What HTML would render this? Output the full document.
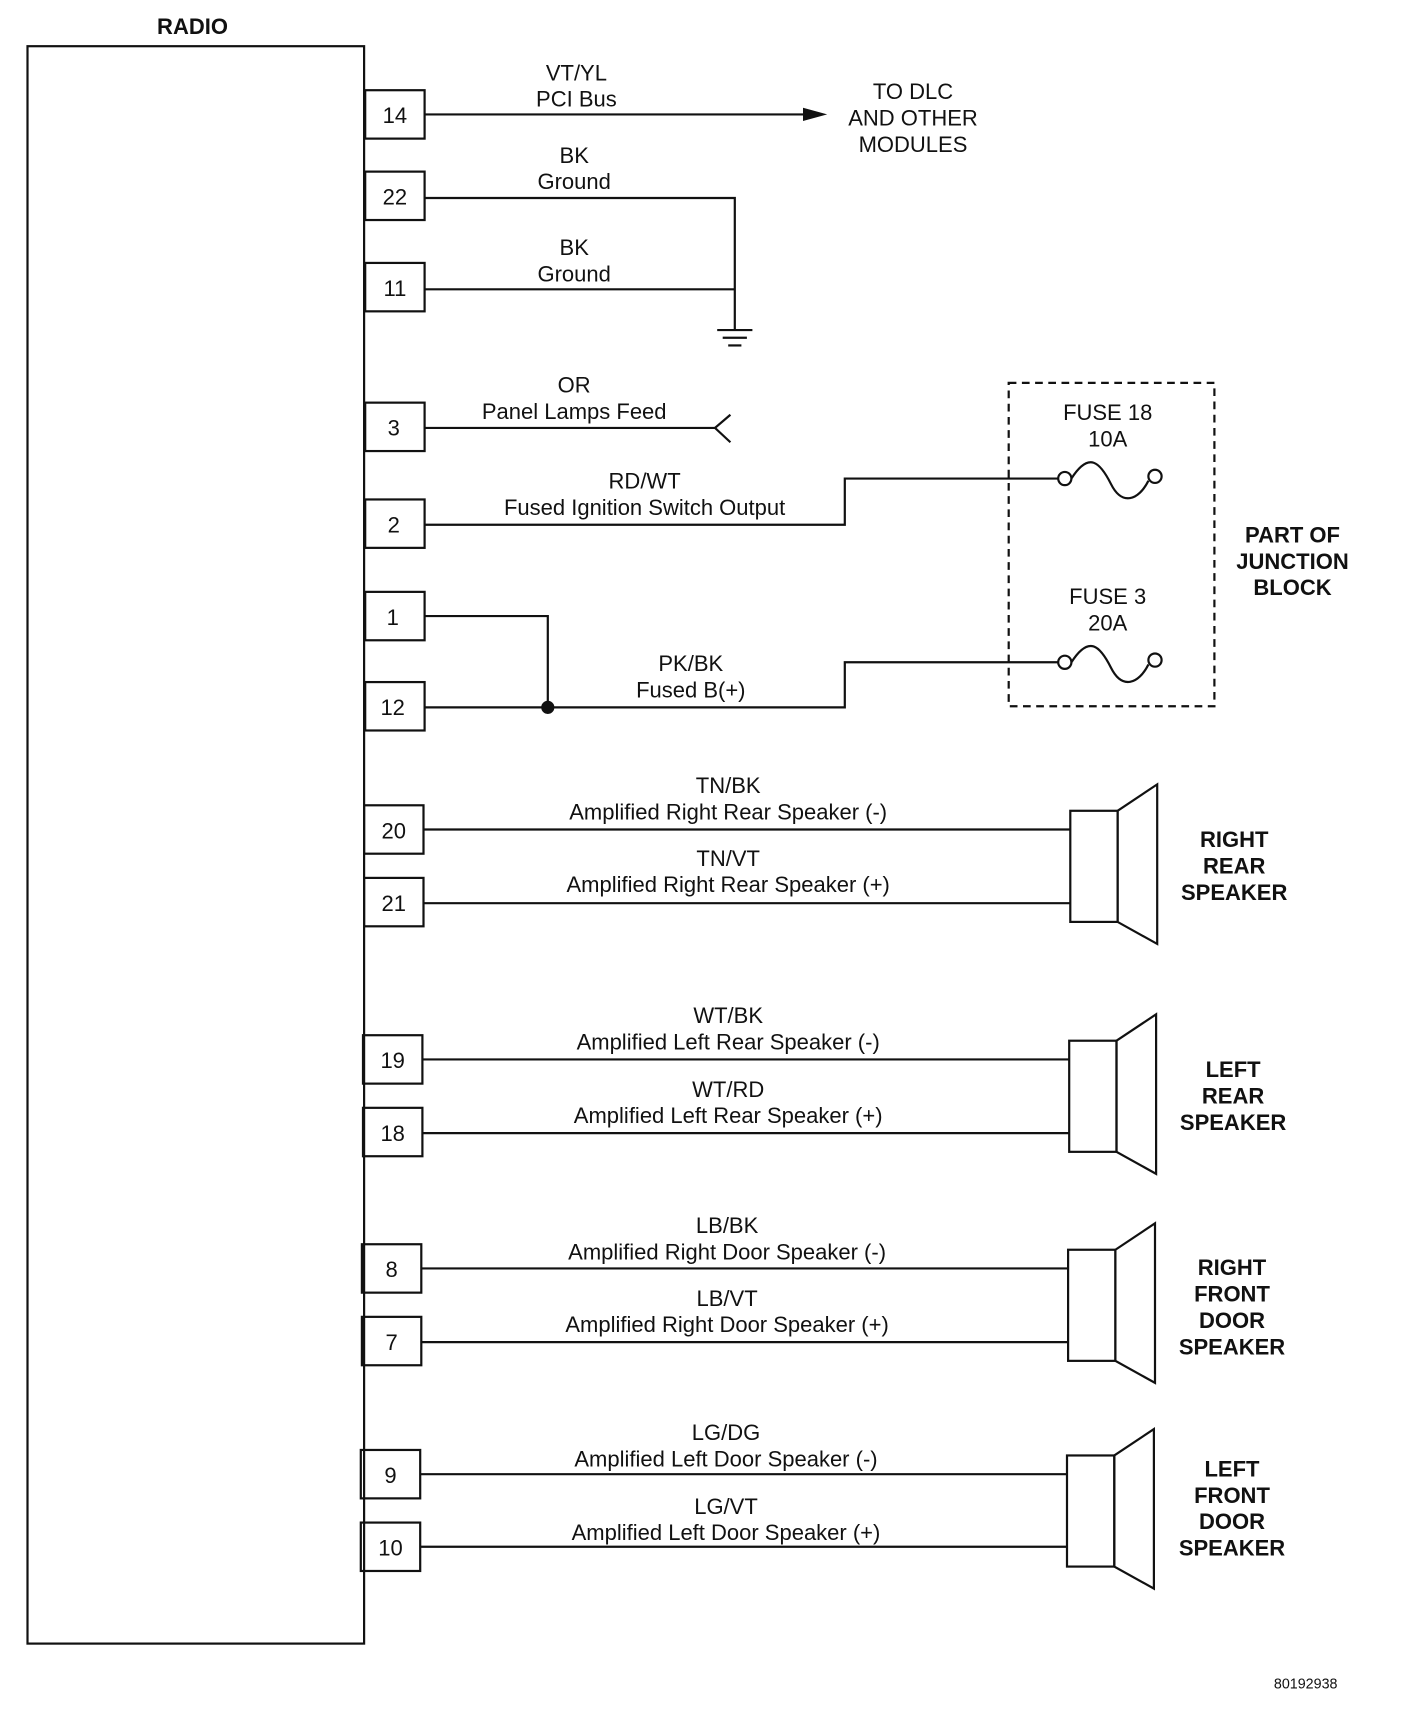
<!DOCTYPE html>
<html><head><meta charset="utf-8"><style>
html,body{margin:0;padding:0;background:#fff;}
svg{display:block;}
text{font-family:"Liberation Sans",Arial,sans-serif;font-size:20px;fill:#111;text-anchor:middle;}
.b{font-weight:bold;}
</style></head><body>
<svg width="1408" height="1736" viewBox="0 0 1280 1578" preserveAspectRatio="none" xmlns="http://www.w3.org/2000/svg">
<g stroke="#111" stroke-width="2" fill="none">
<rect x="25" y="42" width="306" height="1452"/>
<!-- pin boxes -->
<rect x="332" y="82" width="54" height="44"/>
<rect x="332" y="156" width="54" height="44"/>
<rect x="332" y="239" width="54" height="44"/>
<rect x="332" y="366" width="54" height="44"/>
<rect x="332" y="454" width="54" height="44"/>
<rect x="332" y="538" width="54" height="44"/>
<rect x="332" y="620" width="54" height="44"/>
<rect x="331" y="732" width="54" height="44"/>
<rect x="331" y="798" width="54" height="44"/>
<rect x="330" y="941" width="54" height="44"/>
<rect x="330" y="1007" width="54" height="44"/>
<rect x="329" y="1131" width="54" height="44"/>
<rect x="329" y="1197" width="54" height="44"/>
<rect x="328" y="1318" width="54" height="44"/>
<rect x="328" y="1384" width="54" height="44"/>
<!-- wires -->
<line x1="386" y1="104" x2="738" y2="104"/>
<polyline points="386,180 668,180 668,300"/>
<line x1="386" y1="263" x2="668" y2="263"/>
<line x1="652" y1="300" x2="684" y2="300"/>
<line x1="657" y1="307" x2="679" y2="307"/>
<line x1="662" y1="314" x2="674" y2="314"/>
<polyline points="386,389 650,389"/>
<polyline points="664,377 650,389 664,402"/>
<polyline points="386,477 768,477 768,435 962,435"/>
<polyline points="386,560 498,560 498,643"/>
<polyline points="386,643 768,643 768,602 962,602"/>
<circle cx="968" cy="435" r="6"/><circle cx="1050" cy="433" r="6"/>
<path d="M974,435 C990,410 1000,420 1010,440 C1020,460 1035,455 1044,437"/>
<circle cx="968" cy="602" r="6"/><circle cx="1050" cy="600" r="6"/>
<path d="M974,602 C990,577 1000,587 1010,607 C1020,627 1035,622 1044,604"/>
<rect x="917" y="348" width="187" height="294" stroke-dasharray="7,5"/>
<line x1="385" y1="754" x2="973" y2="754"/>
<line x1="385" y1="821" x2="973" y2="821"/>
<line x1="384" y1="963" x2="972" y2="963"/>
<line x1="384" y1="1030" x2="972" y2="1030"/>
<line x1="383" y1="1153" x2="971" y2="1153"/>
<line x1="383" y1="1220" x2="971" y2="1220"/>
<line x1="382" y1="1340" x2="970" y2="1340"/>
<line x1="382" y1="1406" x2="970" y2="1406"/>
<!-- speakers -->
<rect x="973" y="737" width="43" height="101"/>
<polygon points="1016,737 1052,713 1052,858 1016,838"/>
<rect x="972" y="946" width="43" height="101"/>
<polygon points="1015,946 1051,922 1051,1067 1015,1047"/>
<rect x="971" y="1136" width="43" height="101"/>
<polygon points="1014,1136 1050,1112 1050,1257 1014,1237"/>
<rect x="970" y="1323" width="43" height="101"/>
<polygon points="1013,1323 1049,1299 1049,1444 1013,1424"/>
</g>
<polygon points="752,104 730,98 730,110" fill="#111"/>
<circle cx="498" cy="643" r="6" fill="#111"/>
<text x="175" y="31" class="b">RADIO</text>
<text x="359" y="112">14</text><text x="359" y="186">22</text><text x="359" y="269">11</text>
<text x="358" y="396">3</text><text x="358" y="484">2</text><text x="357" y="568">1</text>
<text x="357" y="650">12</text><text x="358" y="762">20</text><text x="358" y="828">21</text>
<text x="357" y="971">19</text><text x="357" y="1037">18</text><text x="356" y="1161">8</text>
<text x="356" y="1227">7</text><text x="355" y="1348">9</text><text x="355" y="1414">10</text>
<text x="524" y="73">VT/YL</text><text x="524" y="97">PCI Bus</text>
<text x="830" y="90">TO DLC</text><text x="830" y="114">AND OTHER</text><text x="830" y="138">MODULES</text>
<text x="522" y="148">BK</text><text x="522" y="172">Ground</text>
<text x="522" y="232">BK</text><text x="522" y="256">Ground</text>
<text x="522" y="357">OR</text><text x="522" y="381">Panel Lamps Feed</text>
<text x="586" y="444">RD/WT</text><text x="586" y="468">Fused Ignition Switch Output</text>
<text x="628" y="610">PK/BK</text><text x="628" y="634">Fused B(+)</text>
<text x="1007" y="382">FUSE 18</text><text x="1007" y="406">10A</text>
<text x="1007" y="549">FUSE 3</text><text x="1007" y="573">20A</text>
<text x="1175" y="493" class="b">PART OF</text><text x="1175" y="517" class="b">JUNCTION</text><text x="1175" y="541" class="b">BLOCK</text>
<text x="662" y="721">TN/BK</text><text x="662" y="745">Amplified Right Rear Speaker (-)</text>
<text x="662" y="787">TN/VT</text><text x="662" y="811">Amplified Right Rear Speaker (+)</text>
<text x="662" y="930">WT/BK</text><text x="662" y="954">Amplified Left Rear Speaker (-)</text>
<text x="662" y="997">WT/RD</text><text x="662" y="1021">Amplified Left Rear Speaker (+)</text>
<text x="661" y="1121">LB/BK</text><text x="661" y="1145">Amplified Right Door Speaker (-)</text>
<text x="661" y="1187">LB/VT</text><text x="661" y="1211">Amplified Right Door Speaker (+)</text>
<text x="660" y="1309">LG/DG</text><text x="660" y="1333">Amplified Left Door Speaker (-)</text>
<text x="660" y="1376">LG/VT</text><text x="660" y="1400">Amplified Left Door Speaker (+)</text>
<text x="1122" y="770" class="b">RIGHT</text><text x="1122" y="794" class="b">REAR</text><text x="1122" y="818" class="b">SPEAKER</text>
<text x="1121" y="979" class="b">LEFT</text><text x="1121" y="1003" class="b">REAR</text><text x="1121" y="1027" class="b">SPEAKER</text>
<text x="1120" y="1159" class="b">RIGHT</text><text x="1120" y="1183" class="b">FRONT</text><text x="1120" y="1207" class="b">DOOR</text><text x="1120" y="1231" class="b">SPEAKER</text>
<text x="1120" y="1342" class="b">LEFT</text><text x="1120" y="1366" class="b">FRONT</text><text x="1120" y="1390" class="b">DOOR</text><text x="1120" y="1414" class="b">SPEAKER</text>
<text x="1187" y="1535" style="font-size:13px">80192938</text>
</svg>
</body></html>
